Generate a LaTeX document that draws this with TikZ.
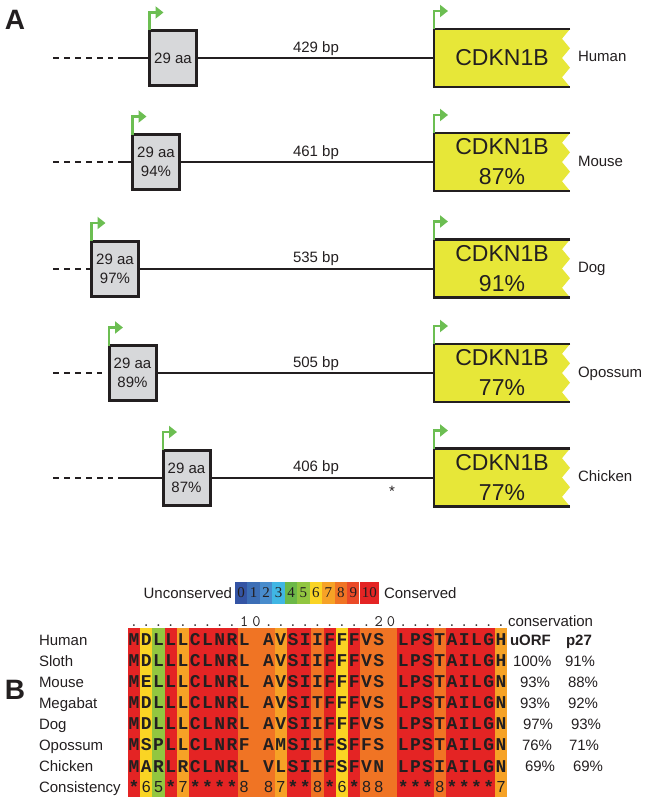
\documentclass[tikz,border=0pt]{standalone}
\usepackage{fontspec}
\setmainfont{Liberation Sans}
\newfontfamily\barfont{Liberation Serif}
\newfontfamily\resfont{Liberation Mono}
\usepackage{xcolor}
\usepackage{tikz}
\usetikzlibrary{arrows.meta, positioning, calc}
\definecolor{inkDark}{RGB}{35,31,32}
\definecolor{geneYellow}{RGB}{231,231,56}
\definecolor{uorfGray}{RGB}{215,216,218}
\definecolor{tssGreen}{RGB}{108,190,82}
\definecolor{cons0}{RGB}{52,84,164}
\definecolor{cons1}{RGB}{60,110,182}
\definecolor{cons2}{RGB}{72,140,204}
\definecolor{cons3}{RGB}{64,182,228}
\definecolor{cons4}{RGB}{108,184,72}
\definecolor{cons5}{RGB}{146,198,64}
\definecolor{cons6}{RGB}{250,212,36}
\definecolor{cons7}{RGB}{246,162,38}
\definecolor{cons8}{RGB}{240,116,36}
\definecolor{cons9}{RGB}{234,74,40}
\definecolor{cons10}{RGB}{228,36,36}

\begin{document}
\begin{tikzpicture}[x=1pt, y=-1pt,
    every node/.style={inner sep=0pt, outer sep=0pt, text=inkDark},
    txt/.style={font=\fontsize{15}{18}\selectfont},
    uorfbox/.style={draw=inkDark, line width=3pt, fill=uorfGray, minimum width=47pt,
        minimum height=55pt, align=center, font=\fontsize{15}{19}\selectfont},
    genetxt/.style={align=center, font=\fontsize{23}{30}\selectfont},
    genebox/.style={draw=inkDark, line width=2.5pt},
    intron/.style={draw=inkDark, line width=2pt},
    upstream/.style={draw=inkDark, line width=2pt, dash pattern=on 6pt off 5pt},
    tss/.style={draw=tssGreen, line width=2.5pt, -{Triangle[length=8pt, width=12pt]}},
    panel/.style={font=\fontsize{28}{30}\selectfont\bfseries},
    barcell/.style={minimum height=22pt, font=\barfont\fontsize{15}{18}\selectfont},
    res/.style={font=\resfont\bfseries\fontsize{18}{20}\selectfont},
    score/.style={font=\fontsize{16}{18}\selectfont},
    ruler/.style={font=\ttfamily\fontsize{16}{18}\selectfont, anchor=base},
]
    \useasboundingbox (0,0) rectangle (647,800);

    % Panel A: uORF upstream of CDKN1B
    \node[panel] (pA) at (15,20) {A};
    \foreach \row/\yy/\bx/\dend/\sp/\bp/\aa/\cd in {
        1/58/173/113/Human/429/29 aa/CDKN1B,
        2/162/156/113/Mouse/461/29 aa\\94\%/CDKN1B\\87\%,
        3/268.5/115/90/Dog/535/29 aa\\97\%/CDKN1B\\91\%,
        4/373/132.5/102/Opossum/505/29 aa\\89\%/CDKN1B\\77\%,
        5/477.5/186.5/113/Chicken/406/29 aa\\87\%/CDKN1B\\77\%} {
        \coordinate (s\row) at (53,\yy);
        \coordinate (e\row) at (\dend,\yy);
        \coordinate (g\row) at (434,\yy);
        \draw[upstream] (s\row) -- (e\row);
        % CDKN1B exon with cut end
        \fill[geneYellow] (434,\yy-29) -- (570,\yy-29) -- (562,\yy-19.33) -- (570,\yy-9.67)
            -- (562,\yy) -- (570,\yy+9.67) -- (562,\yy+19.33) -- (570,\yy+29)
            -- (434,\yy+29) -- cycle;
        \draw[genebox] (570,\yy-29) -- (434,\yy-29) -- (434,\yy+29) -- (570,\yy+29);
        \node[genetxt] (c\row) at (502,\yy) {\cd};
        \node[uorfbox] (u\row) at (\bx,\yy) {\aa};
        \draw[intron] (u\row.east) -- (g\row);
        \draw[tss] (u\row.north west) -- ++(0,-18) -- ++(14,0);
        \draw[tss] ($(g\row)+(0,-29)$) -- ++(0,-18) -- ++(14,0);
        \node[txt, anchor=south] (b\row) at (316,\yy-2.5) {\bp\ bp};
        \node[txt, anchor=base west] (n\row) at (578,\yy+4) {\sp};
    }
    \foreach \row in {1,2,5}
        \draw[intron] ($(s\row)+(65,0)$) -- (u\row.west);
    \node[txt] (mark) at (392,491) {*};

    % Panel B: alignment of the uORF peptide
    \node[panel] (pB) at (15,690) {B};
    \foreach \k in {0,...,9}
        \node[barcell, minimum width=12.45pt, fill=cons\k] (k\k) at (241.2+12.45*\k,593) {\k};
    \node[barcell, minimum width=19.5pt, fill=cons10] (k10) at (369.25,593) {10};
    \node[txt, anchor=east] (lo) at ([xshift=-3pt]k0.west) {Unconserved};
    \node[txt, anchor=west] (hi) at ([xshift=5pt]k10.east) {Conserved};

    \foreach \c [count=\i] in {10,6,5,10,7,10,10,10,10,8,8,8,7,10,10,8,10,6,10,8,8,8,10,10,10,8,10,10,10,10,7}
        \fill[cons\c] (115.77+12.23*\i,628) rectangle ++(12.53,169);
    \foreach \h [count=\i] in {.,.,.,.,.,.,.,.,.,1,0,.,.,.,.,.,.,.,.,.,2,0,.,.,.,.,.,.,.,.,.}
        \node[ruler] (t\i) at (121.885+12.23*\i,626) {\h};

    \foreach \sp [count=\r] in {Human,Sloth,Mouse,Megabat,Dog,Opossum,Chicken,Consistency}
        \node[txt, anchor=base west] (sp\r) at (39,645+21.1*\r-21.1) {\sp};

    \foreach \a [count=\i] in {M,D,L,L,L,C,L,N,R,L,-,A,V,S,I,I,F,F,F,V,S,-,L,P,S,T,A,I,L,G,H}
        {\if-\a\else\node[res] (a1-\i) at (121.885+12.23*\i,639.5) {\a};\fi}
    \foreach \a [count=\i] in {M,D,L,L,L,C,L,N,R,L,-,A,V,S,I,I,F,F,F,V,S,-,L,P,S,T,A,I,L,G,H}
        {\if-\a\else\node[res] (a2-\i) at (121.885+12.23*\i,660.6) {\a};\fi}
    \foreach \a [count=\i] in {M,E,L,L,L,C,L,N,R,L,-,A,V,S,I,I,F,F,F,V,S,-,L,P,S,T,A,I,L,G,N}
        {\if-\a\else\node[res] (a3-\i) at (121.885+12.23*\i,681.7) {\a};\fi}
    \foreach \a [count=\i] in {M,D,L,L,L,C,L,N,R,L,-,A,V,S,I,T,F,F,F,V,S,-,L,P,S,T,A,I,L,G,N}
        {\if-\a\else\node[res] (a4-\i) at (121.885+12.23*\i,702.8) {\a};\fi}
    \foreach \a [count=\i] in {M,D,L,L,L,C,L,N,R,L,-,A,V,S,I,I,F,F,F,V,S,-,L,P,S,T,A,I,L,G,N}
        {\if-\a\else\node[res] (a5-\i) at (121.885+12.23*\i,723.9) {\a};\fi}
    \foreach \a [count=\i] in {M,S,P,L,L,C,L,N,R,F,-,A,M,S,I,I,F,S,F,F,S,-,L,P,S,T,A,I,L,G,N}
        {\if-\a\else\node[res] (a6-\i) at (121.885+12.23*\i,745) {\a};\fi}
    \foreach \a [count=\i] in {M,A,R,L,R,C,L,N,R,L,-,V,L,S,I,I,F,S,F,V,N,-,L,P,S,I,A,I,L,G,N}
        {\if-\a\else\node[res] (a7-\i) at (121.885+12.23*\i,766.1) {\a};\fi}
    % consistency scores
    \foreach \a [count=\i] in {*,6,5,*,7,*,*,*,*,8,-,8,7,*,*,8,*,6,*,8,8,-,*,*,*,8,*,*,*,*,7}
        {\if-\a\else\if*\a\node[res] (a8-\i) at (121.885+12.23*\i,787.2) {\a};
        \else\node[score] (a8-\i) at (121.885+12.23*\i,787.2) {\a};\fi\fi}

    % conservation table
    \node[txt, anchor=base west] (cv) at (508,626) {conservation};
    \node[txt, anchor=base west, font=\fontsize{15}{18}\selectfont\bfseries] (uo) at (510,645) {uORF};
    \node[txt, anchor=base west, font=\fontsize{15}{18}\selectfont\bfseries] (pp) at (566,645) {p27};
    \foreach \r/\ux/\uv/\px/\pv in {2/513/100/565/91, 3/520/93/568/88, 4/520/93/568/92,
            5/523/97/571/93, 6/522/76/569/71, 7/525/69/573/69} {
        \node[txt, anchor=base west] (u\r) at (\ux,645+21.1*\r-21.1) {\uv\%};
        \node[txt, anchor=base west] (p\r) at (\px,645+21.1*\r-21.1) {\pv\%};
    }
\end{tikzpicture}
\end{document}
